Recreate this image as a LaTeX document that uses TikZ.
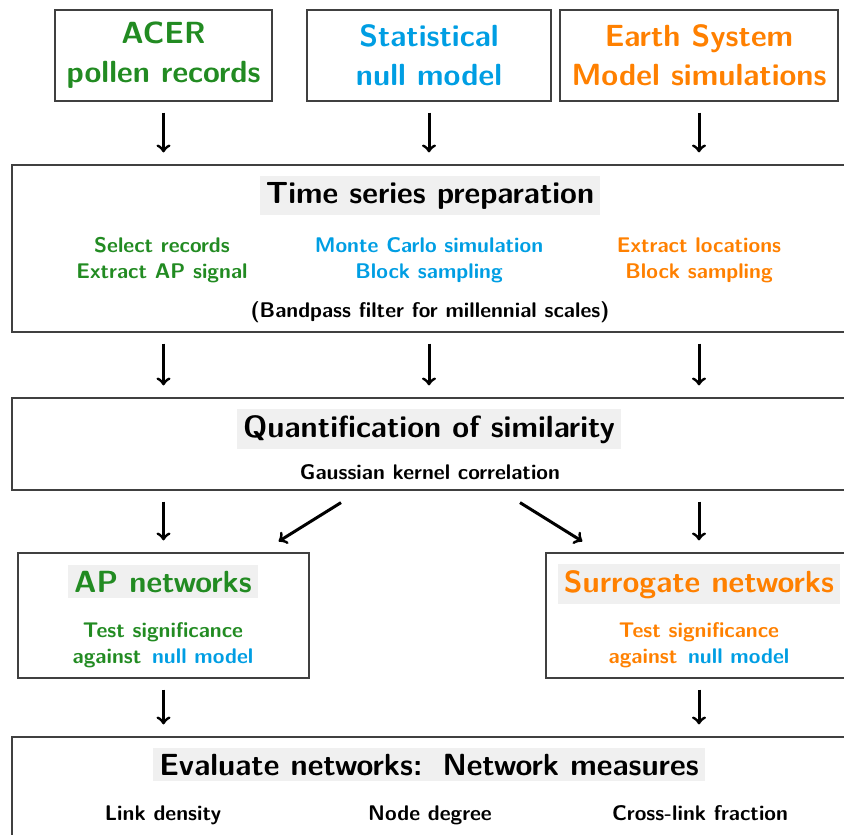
\documentclass[tikz,border=0pt]{standalone}
\usepackage{tikz}
\usetikzlibrary{positioning}
\definecolor{acergreen}{RGB}{34,139,34}
\definecolor{nullblue}{RGB}{0,158,227}
\definecolor{esmorange}{RGB}{255,128,0}
\newcommand{\headfont}{\fontsize{15.3}{19.5}\selectfont\sffamily\bfseries}
\newcommand{\bodyfont}{\fontsize{10.6}{13}\selectfont\sffamily\bfseries}
\tikzstyle{source}=[rectangle, draw=black!75, line width=0.6pt,
  minimum height=45.5pt, align=center, font=\headfont]
\tikzstyle{stage}=[rectangle, draw=black!75, line width=0.6pt,
  minimum width=420pt]
\tikzstyle{headline}=[fill=black!6, inner sep=3pt, anchor=base,
  font=\headfont]
\tikzstyle{detail}=[align=center, font=\bodyfont]
\tikzstyle{arrflow}=[->, >=to, line width=1.5pt, shorten <=5.5pt,
  shorten >=6pt]

\begin{document}
\begin{tikzpicture}[x=0.5pt, y=-0.5pt]
\useasboundingbox (0,0) rectangle (844,834);

% data sources
\node[source, minimum width=108.5pt, text=acergreen] (acer) at (163.5,55.5)
  {ACER\\ pollen records};
\node[source, minimum width=122pt, text=nullblue] (nullm) at (429,55.5)
  {Statistical\\ null model};
\node[source, minimum width=139pt, text=esmorange] (esm) at (699,55.5)
  {Earth System\\ Model simulations};

% time series preparation
\node[stage, minimum height=83.5pt] (prep) at (432,248.5) {};
\node[headline] (prephead) at (430,203) {Time series preparation};
\node[detail, text=acergreen] (selrec) at (162,260)
  {Select records\\ Extract AP signal};
\node[detail, text=nullblue] (mcsim) at (429,260)
  {Monte Carlo simulation\\ Block sampling};
\node[detail, text=esmorange] (extloc) at (699,260)
  {Extract locations\\ Block sampling};
\node[detail, anchor=base] (bandpass) at (430,317)
  {(Bandpass filter for millennial scales)};

% similarity
\node[stage, minimum height=46pt] (quant) at (432,444) {};
\node[headline] (quanthead) at (429,437) {Quantification of similarity};
\node[detail, anchor=base] (gauss) at (430,479) {Gaussian kernel correlation};

% networks
\node[stage, minimum width=145.5pt, minimum height=62.5pt] (apnet)
  at (163.5,615.5) {};
\node[headline, text=acergreen] (aphead) at (163,592) {AP networks};
\node[detail, text=acergreen] (aptest) at (163,645)
  {Test significance\\ against\enspace{\color{nullblue}null model}};
\node[stage, minimum width=153pt, minimum height=62.5pt] (surrnet)
  at (699,615.5) {};
\node[headline, text=esmorange] (surrhead) at (699,592) {Surrogate networks};
\node[detail, text=esmorange] (surrtest) at (699,645)
  {Test significance\\ against\enspace{\color{nullblue}null model}};

% evaluation
\node[stage, minimum height=56.5pt] (eval) at (432,793.5) {};
\node[headline] (evalhead) at (429,775) {Evaluate networks:\, Network measures};
\node[detail, anchor=base] (linkd) at (163,820) {Link density};
\node[detail, anchor=base] (noded) at (430,820) {Node degree};
\node[detail, anchor=base] (crossl) at (700,820) {Cross-link fraction};

\draw[arrflow] (acer.south) -- (acer.south |- prep.north);
\draw[arrflow] (nullm.south) -- (nullm.south |- prep.north);
\draw[arrflow] (esm.south) -- (esm.south |- prep.north);

\draw[arrflow] (acer.south |- prep.south) -- (acer.south |- quant.north);
\draw[arrflow] (nullm.south |- prep.south) -- (nullm.south |- quant.north);
\draw[arrflow] (esm.south |- prep.south) -- (esm.south |- quant.north);

\draw[arrflow] (acer.south |- quant.south) -- (acer.south |- apnet.north);
\draw[arrflow, shorten <=0pt, shorten >=0pt]
  ([xshift=-45.5pt, yshift=-6pt]quant.south) --
  ([xshift=-15.5pt, yshift=5.5pt]apnet.north east);
\draw[arrflow, shorten <=0pt, shorten >=0pt]
  ([xshift=44pt, yshift=-6pt]quant.south) --
  ([xshift=18.5pt, yshift=5.5pt]surrnet.north west);
\draw[arrflow] (esm.south |- quant.south) -- (esm.south |- surrnet.north);

\draw[arrflow] (apnet.south) -- (apnet.south |- eval.north);
\draw[arrflow] (surrnet.south) -- (surrnet.south |- eval.north);

\end{tikzpicture}
\end{document}
